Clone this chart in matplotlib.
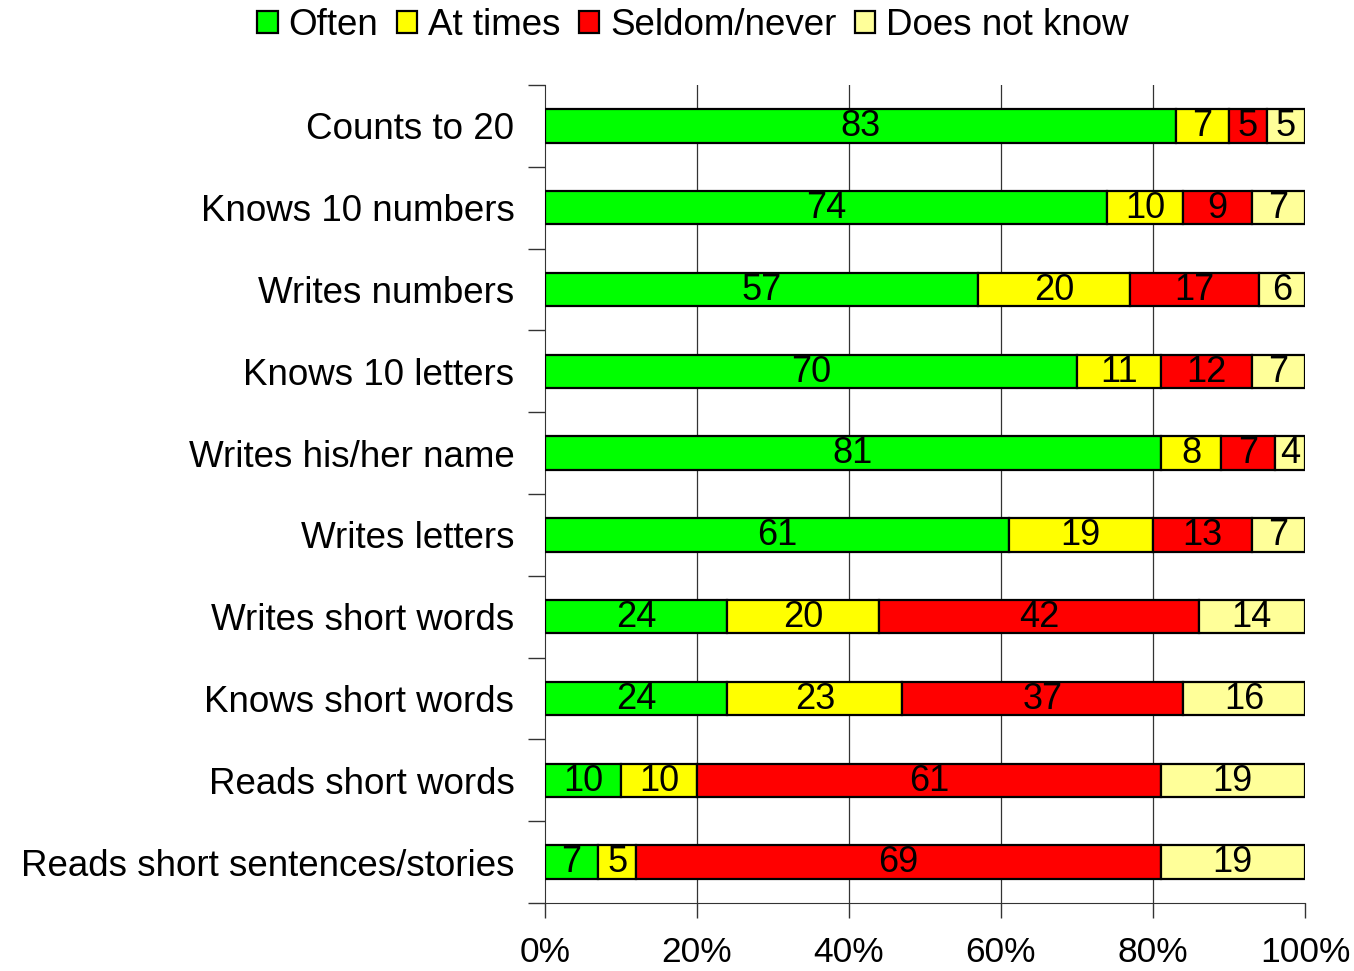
import numpy as np
import matplotlib
matplotlib.use("Agg")
import matplotlib.pyplot as plt
from matplotlib.patches import Patch

plt.rcParams['font.family'] = ['Liberation Sans', 'DejaVu Sans']

skills = ['Counts to 20', 'Knows 10 numbers', 'Writes numbers', 'Knows 10 letters',
          'Writes his/her name', 'Writes letters', 'Writes short words',
          'Knows short words', 'Reads short words', 'Reads short sentences/stories']
often = [83, 74, 57, 70, 81, 61, 24, 24, 10, 7]
at_times = [7, 10, 20, 11, 8, 19, 20, 23, 10, 5]
seldom = [5, 9, 17, 12, 7, 13, 42, 37, 61, 69]
dont_know = [5, 7, 6, 7, 4, 7, 14, 16, 19, 19]

series = [often, at_times, seldom, dont_know]
names = ['Often', 'At times', 'Seldom/never', 'Does not know']
colors = ['#00FF00', '#FFFF00', '#FF0000', '#FFFF99']

fig = plt.figure(figsize=(13.54, 9.71), dpi=100)
ax = fig.add_axes([0.4025, 0.070, 0.5613, 0.8425])

y = np.arange(len(skills))
left = np.zeros(len(skills))
for vals, name, col in zip(series, names, colors):
    vals = np.array(vals, dtype=float)
    ax.barh(y, vals, left=left, height=0.41, color=col, edgecolor='black',
            linewidth=1.6, zorder=3)
    for yi, l, v in zip(y, left, vals):
        ax.text(l + v / 2, yi + 0.01, f"{int(v)}", ha='center', va='center',
                fontsize=26, zorder=4)
    left += vals

for gx in [20, 40, 60, 80]:
    ax.axvline(gx, color='#333333', linewidth=0.9, zorder=1)

ax.set_xlim(0, 100)
ax.set_ylim(len(skills) - 0.5, -0.5)
ax.set_xticks([0, 20, 40, 60, 80, 100])
ax.set_xticklabels(['0%', '20%', '40%', '60%', '80%', '100%'], fontsize=25.5)
ax.set_yticks(y)
ax.set_yticklabels(skills, fontsize=26.5)
ax.set_yticks(np.arange(len(skills) + 1) - 0.5, minor=True)
ax.tick_params(axis='y', which='major', length=0, pad=22)
ax.tick_params(axis='y', which='minor', length=12, width=1, color='#333333')
ax.tick_params(axis='x', length=11, width=1, color='#333333', pad=13)

ax.spines['top'].set_visible(False)
ax.spines['right'].set_visible(False)
ax.spines['left'].set_color('#333333')
ax.spines['bottom'].set_color('#333333')

handles = [Patch(facecolor=c, edgecolor='black', linewidth=1.6) for c in colors]
fig.legend(handles, names, loc='upper center', bbox_to_anchor=(0.512, 1.026),
           ncol=4, frameon=False, fontsize=26.5, handlelength=0.55, handleheight=0.55,
           handletextpad=0.3, columnspacing=0.5)

fig.savefig('out.png', dpi=100)
